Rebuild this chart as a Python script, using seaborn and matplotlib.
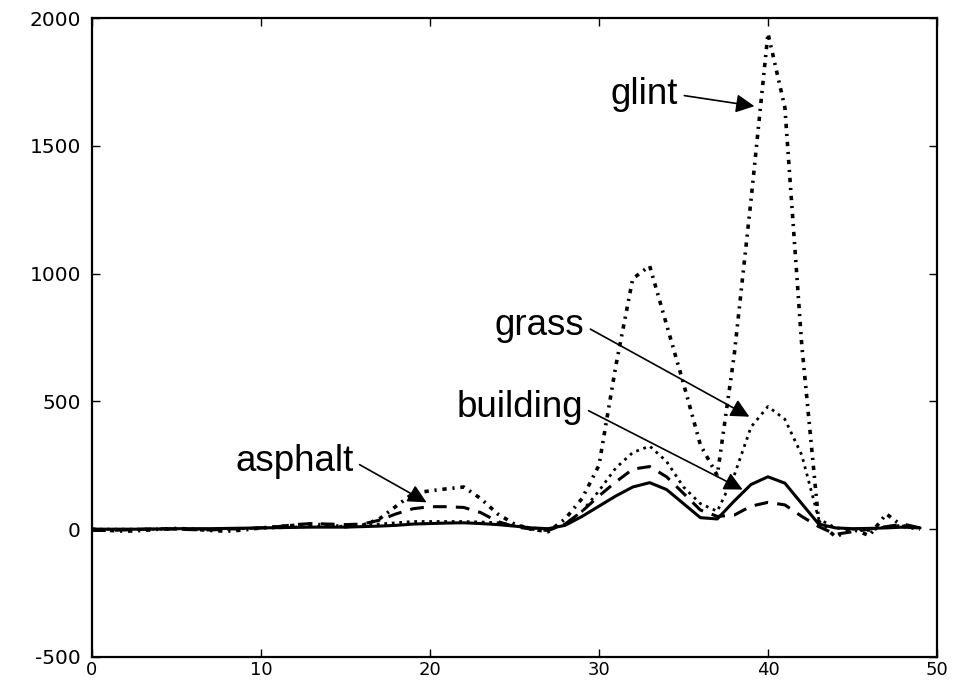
import matplotlib
matplotlib.use("Agg")
import matplotlib.pyplot as plt
import numpy as np
import seaborn as sns

sns.set_style("ticks")
plt.rcParams['font.family'] = ['DejaVu Sans']
plt.rcParams['text.color'] = 'black'
plt.rcParams['axes.unicode_minus'] = False

# band index 0..49
x = np.arange(50)

building = [0, 0, 0, 0, 1, 2, 2, 2, 3, 4, 5, 6, 7, 8, 8, 8, 10, 12, 15, 20,
            22, 24, 25, 22, 18, 12, 5, 2, 15, 50, 90, 130, 165, 182, 155, 100,
            45, 40, 110, 175, 205, 180, 100, 20, 5, 2, 3, 5, 8, 5]
asphalt = [-5, -5, -3, 0, 2, 0, -2, -3, 0, 3, 5, 10, 18, 22, 20, 18, 20, 35, 60, 80,
           88, 88, 85, 65, 30, 10, 0, -5, 20, 70, 130, 185, 235, 245, 205, 140,
           75, 50, 55, 90, 105, 95, 50, 10, -20, -10, 0, 10, 20, 5]
grass = [0, 0, 0, 0, 0, 0, 0, 0, 0, 2, 5, 5, 8, 10, 10, 12, 15, 20, 25, 30,
         30, 30, 30, 28, 25, 15, 5, 0, 20, 70, 150, 240, 300, 325, 265, 165,
         100, 70, 210, 400, 480, 430, 290, 40, 5, 0, -5, 10, 15, 5]
glint = [0, -5, -8, -5, 0, 3, 0, -5, -8, -3, 5, 10, 15, 20, 15, 10, 15, 40, 90, 140,
         150, 158, 165, 120, 60, 20, 0, -10, 40, 120, 250, 640, 980, 1030, 800, 570,
         330, 210, 680, 1290, 1940, 1650, 720, 30, -30, 0, -25, 60, 10, 0]

fig, ax = plt.subplots(figsize=(9.61, 6.82), dpi=100)
fig.subplots_adjust(left=0.0957, right=0.975, bottom=0.0367, top=0.9736)

sns.lineplot(x=x, y=building, ax=ax, color='black', linewidth=2.2, linestyle='-')
sns.lineplot(x=x, y=asphalt, ax=ax, color='black', linewidth=2.2, linestyle=(0, (4.5, 3)))
sns.lineplot(x=x, y=grass, ax=ax, color='black', linewidth=2.0, linestyle=(0, (1, 1.7)))
sns.lineplot(x=x, y=glint, ax=ax, color='black', linewidth=2.6, linestyle=(0, (1.2, 1.6, 0.6, 1.6)))

ax.set_xlim(0, 50)
ax.set_ylim(-500, 2000)
ax.set_xticks(range(0, 51, 10))
ax.set_yticks(range(-500, 2001, 500))
ax.tick_params(direction='in', top=True, right=True, length=6, width=1, colors='black')
ax.tick_params(axis='x', labelsize=13, pad=3)
ax.tick_params(axis='y', labelsize=14.5, pad=8)
for s in ax.spines.values():
    s.set_linewidth(1.6)
    s.set_color('black')

arrow = dict(arrowstyle='-|>', color='black', lw=1.2, mutation_scale=28,
             relpos=(1, 0.5), shrinkA=2, shrinkB=0)
txt = dict(fontsize=26.5, family=['Liberation Sans', 'DejaVu Sans'], ha='center', va='center')
ax.annotate('glint', xy=(39.2, 1655), xytext=(32.7, 1700), arrowprops=arrow, **txt)
ax.annotate('grass', xy=(38.9, 440), xytext=(26.5, 795), arrowprops=arrow, **txt)
ax.annotate('building', xy=(38.5, 155), xytext=(25.3, 475), arrowprops=arrow, **txt)
ax.annotate('asphalt', xy=(19.8, 105), xytext=(12.0, 265), arrowprops=arrow, **txt)

fig.savefig('out.png', dpi=100)
